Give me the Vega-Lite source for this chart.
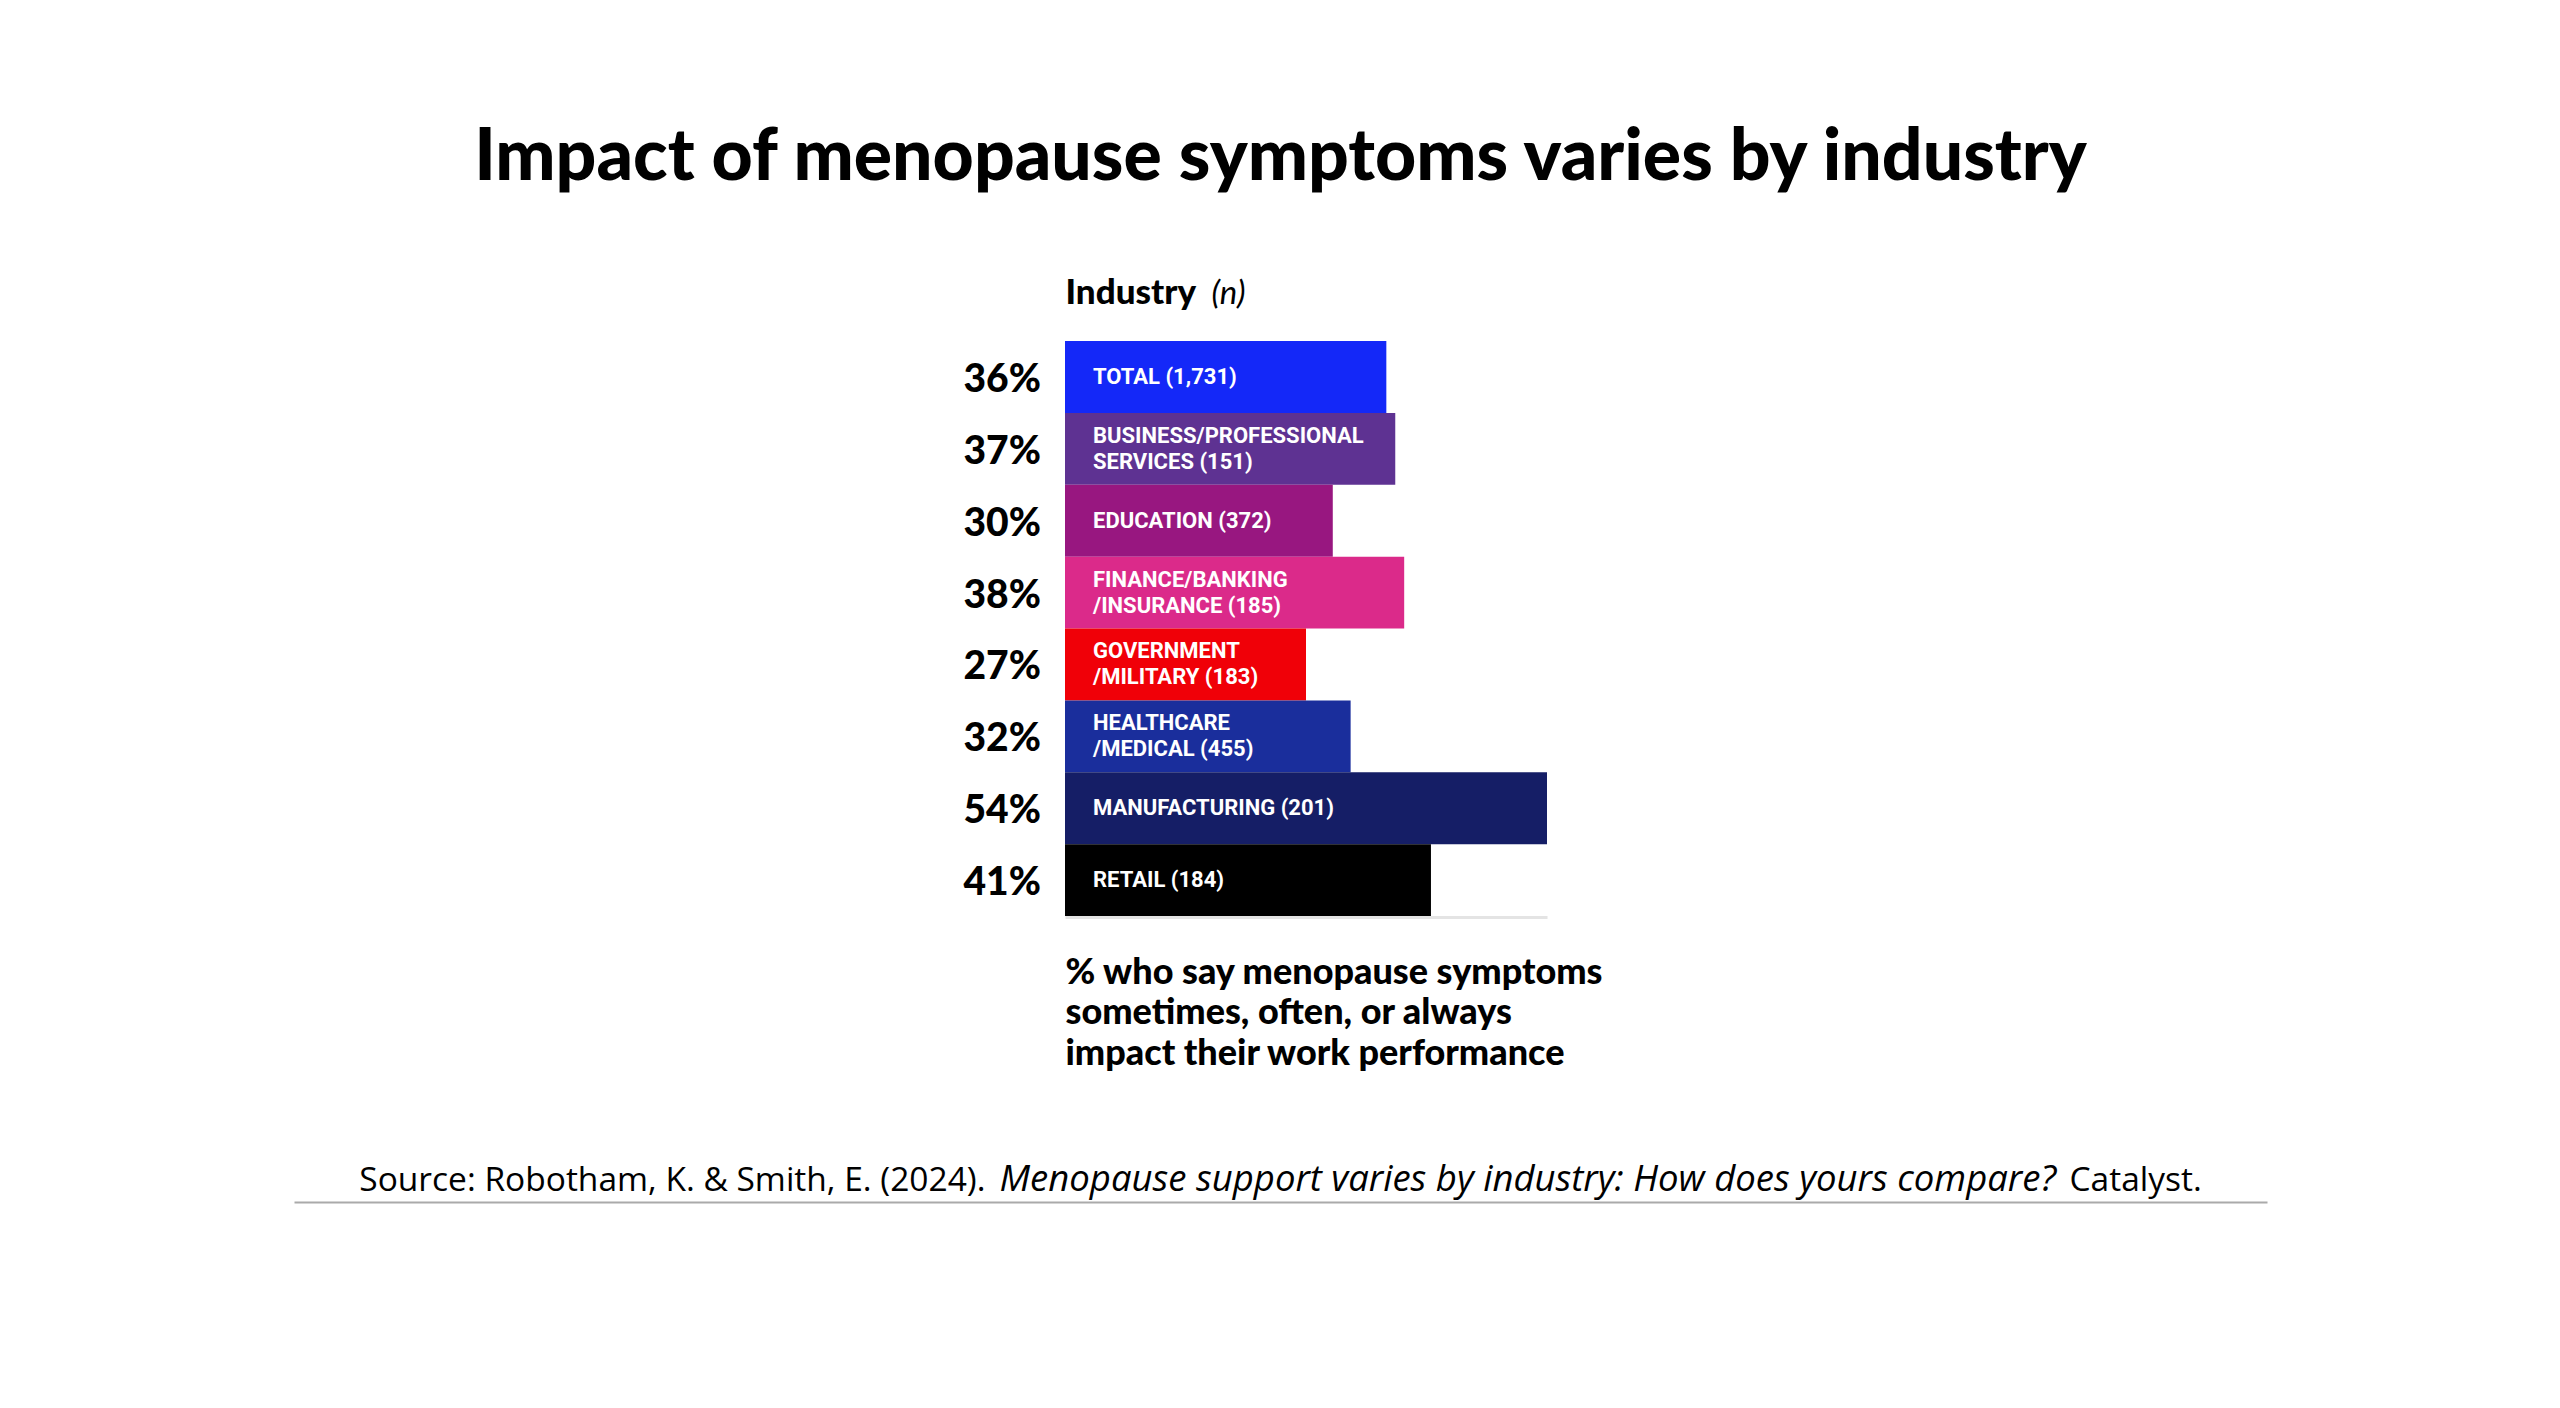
{
  "$schema": "https://vega.github.io/schema/vega-lite/v6.json",
  "autosize": {"type": "none"},
  "width": 1973,
  "height": 861,
  "padding": {"left": 294, "top": 341, "right": 293, "bottom": 206},
  "background": "white",
  "config": {"view": {"stroke": null}, "font": "Lato"},
  "title": {
    "text": "Impact of menopause symptoms varies by industry",
    "anchor": "middle",
    "frame": "group",
    "font": "Lato",
    "fontSize": 71.5,
    "fontWeight": 900,
    "color": "#000000",
    "offset": 80
  },
  "data": {
    "values": [
      {"industry": "TOTAL", "label": "TOTAL (1,731)", "pct": 0.36},
      {"industry": "BUSINESS/PROFESSIONAL SERVICES", "label": "BUSINESS/PROFESSIONAL\nSERVICES (151)", "pct": 0.37},
      {"industry": "EDUCATION", "label": "EDUCATION (372)", "pct": 0.30},
      {"industry": "FINANCE/BANKING/INSURANCE", "label": "FINANCE/BANKING\n/INSURANCE (185)", "pct": 0.38},
      {"industry": "GOVERNMENT/MILITARY", "label": "GOVERNMENT\n/MILITARY (183)", "pct": 0.27},
      {"industry": "HEALTHCARE/MEDICAL", "label": "HEALTHCARE\n/MEDICAL (455)", "pct": 0.32},
      {"industry": "MANUFACTURING", "label": "MANUFACTURING (201)", "pct": 0.54},
      {"industry": "RETAIL", "label": "RETAIL (184)", "pct": 0.41}
    ]
  },
  "layer": [
    {
      "mark": {"type": "bar"},
      "encoding": {
        "y": {
          "field": "industry", "type": "nominal", "sort": null,
          "scale": {
            "domain": ["TOTAL", "BUSINESS/PROFESSIONAL SERVICES", "EDUCATION", "FINANCE/BANKING/INSURANCE", "GOVERNMENT/MILITARY", "HEALTHCARE/MEDICAL", "MANUFACTURING", "RETAIL"],
            "range": [0, 575], "paddingInner": 0, "paddingOuter": 0
          },
          "axis": {
            "orient": "left", "labels": false, "ticks": false, "domain": false, "grid": false,
            "title": "Industry", "titleAngle": 0, "titleX": 771, "titleY": -38,
            "titleAlign": "left", "titleBaseline": "alphabetic",
            "titleFont": "Lato", "titleFontSize": 35, "titleFontWeight": 900, "titleColor": "#000000"
          }
        },
        "x": {
          "field": "pct", "type": "quantitative",
          "scale": {"domain": [0, 0.54], "range": [771, 1253], "nice": false, "zero": true},
          "axis": {
            "orient": "bottom", "offset": -285, "domain": true, "domainColor": "#e4e4e4", "domainWidth": 3,
            "ticks": false, "labels": false, "grid": false,
            "title": ["% who say menopause symptoms", "sometimes, often, or always", "impact their work performance"],
            "titleX": 771, "titleY": 66, "titleAlign": "left", "titleAnchor": "start", "titleBaseline": "alphabetic",
            "titleFont": "Lato", "titleFontSize": 36, "titleFontWeight": 900, "titleColor": "#000000",
            "titleLineHeight": 40.5
          }
        },
        "color": {
          "field": "industry", "type": "nominal", "sort": null, "legend": null,
          "scale": {
            "domain": ["TOTAL", "BUSINESS/PROFESSIONAL SERVICES", "EDUCATION", "FINANCE/BANKING/INSURANCE", "GOVERNMENT/MILITARY", "HEALTHCARE/MEDICAL", "MANUFACTURING", "RETAIL"],
            "range": ["#1428f8", "#5e3292", "#981780", "#db2a8a", "#f00008", "#1a2e9c", "#151e66", "#000000"]
          }
        }
      }
    },
    {
      "mark": {"type": "text", "align": "right", "baseline": "middle", "dx": -24, "dy": 3, "font": "Lato", "fontSize": 39, "fontWeight": 900, "color": "#000000"},
      "encoding": {
        "y": {
          "field": "industry", "type": "nominal", "sort": null,
          "axis": {
            "orient": "left", "labels": false, "ticks": false, "domain": false, "grid": false,
            "title": "Source: Robotham, K. & Smith, E. (2024).", "titleAngle": 0, "titleX": 691, "titleY": 849,
            "titleAlign": "right", "titleBaseline": "alphabetic",
            "titleFont": "Open Sans", "titleFontSize": 33.5, "titleFontWeight": "normal", "titleColor": "#000000"
          }
        },
        "x": {
          "datum": 0, "type": "quantitative",
          "scale": {"domain": [-0.8638, 1.3467], "nice": false, "zero": false},
          "axis": {
            "orient": "bottom", "offset": 0, "domain": true, "domainColor": "#aaaaaa", "domainWidth": 2,
            "ticks": false, "labels": false, "grid": false,
            "title": "Menopause support varies by industry: How does yours compare?",
            "titleX": 705, "titleY": -12, "titleAlign": "left", "titleBaseline": "alphabetic",
            "titleFont": "Open Sans", "titleFontSize": 36.5, "titleFontWeight": "normal", "titleFontStyle": "italic", "titleColor": "#000000"
          }
        },
        "text": {"field": "pct", "type": "quantitative", "format": ".0%"}
      }
    },
    {
      "transform": [{"filter": "indexof(datum.label, '\\n') < 0"}],
      "mark": {"type": "text", "align": "left", "baseline": "middle", "dx": 28, "font": "Roboto", "fontSize": 22, "fontWeight": "bold", "color": "#ffffff", "lineBreak": "\n", "lineHeight": 26},
      "encoding": {
        "y": {
          "field": "industry", "type": "nominal", "sort": null,
          "axis": {
            "orient": "left", "labels": false, "ticks": false, "domain": false, "grid": false,
            "title": "Catalyst.", "titleAngle": 0, "titleX": 1775, "titleY": 849,
            "titleAlign": "left", "titleBaseline": "alphabetic",
            "titleFont": "Open Sans", "titleFontSize": 33.5, "titleFontWeight": "normal", "titleColor": "#000000"
          }
        },
        "x": {
          "datum": 0, "type": "quantitative",
          "scale": {"domain": [0, 0.54], "range": [771, 1253], "nice": false, "zero": true},
          "axis": {
            "orient": "top", "labels": false, "ticks": false, "domain": false, "grid": false,
            "title": "(n)", "titleX": 917, "titleY": -38, "titleAlign": "left", "titleBaseline": "alphabetic",
            "titleFont": "Lato", "titleFontSize": 33, "titleFontWeight": "normal", "titleFontStyle": "italic", "titleColor": "#000000"
          }
        },
        "text": {"field": "label", "type": "nominal"}
      }
    },
    {
      "transform": [{"filter": "indexof(datum.label, '\\n') >= 0"}],
      "mark": {"type": "text", "align": "left", "baseline": "middle", "dx": 28, "dy": -13, "font": "Roboto", "fontSize": 22, "fontWeight": "bold", "color": "#ffffff", "lineBreak": "\n", "lineHeight": 26},
      "encoding": {
        "y": {"field": "industry", "type": "nominal", "sort": null, "axis": null},
        "x": {
          "datum": 0, "type": "quantitative",
          "scale": {"domain": [0, 0.54], "range": [771, 1253], "nice": false, "zero": true},
          "axis": null
        },
        "text": {"field": "label", "type": "nominal"}
      }
    }
  ],
  "resolve": {"scale": {"x": "independent"}, "axis": {"x": "independent", "y": "independent"}}
}
